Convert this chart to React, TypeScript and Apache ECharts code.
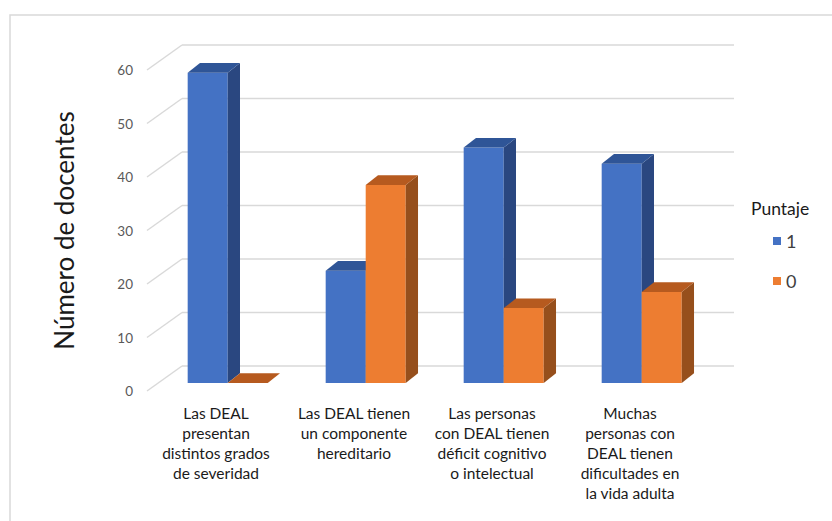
import React, { useEffect, useRef } from "react";
import * as echarts from "echarts";

// Survey statements (category axis)
const categories: string[] = [
  "Las DEAL\npresentan\ndistintos grados\nde severidad",
  "Las DEAL tienen\nun componente\nhereditario",
  "Las personas\ncon DEAL tienen\ndéficit cognitivo\no intelectual",
  "Muchas\npersonas con\nDEAL tienen\ndificultades en\nla vida adulta",
];

// Number of teachers per score
const puntaje1: number[] = [58, 21, 44, 41];
const puntaje0: number[] = [0, 37, 14, 17];

// Value-axis ticks
const yTicks: number[] = [0, 10, 20, 30, 40, 50, 60];

const FONT = "Lato, 'Noto Sans', sans-serif";

// 3D projection offsets (pixels)
const WALL_DX = 35;
const WALL_DY = -25;
const BAR_SHIFT_X = 11.7;
const BAR_SHIFT_Y = -8;
const BAR_DX = 12.3;
const BAR_DY = -9.7;
const BAR_RATIO = 0.29;

const COLORS = {
  blue: { front: "#4472C4", side: "#2A4780", top: "#2F5597" },
  orange: { front: "#ED7D31", side: "#964F1C", top: "#B65A1F" },
};

function barRenderer(slot: number, c: { front: string; side: string; top: string }) {
  return (params: any, api: any) => {
    const i = api.value(0);
    const v = api.value(1);
    const top = api.coord([i, v]);
    const base = api.coord([i, 0]);
    const band = api.size([1, 0])[0];
    const w = band * BAR_RATIO;
    const x0 = top[0] + BAR_SHIFT_X + (slot === 0 ? -w : 0);
    const x1 = x0 + w;
    const yT = top[1] + BAR_SHIFT_Y;
    const yB = base[1] + BAR_SHIFT_Y;
    return {
      type: "group",
      children: [
        {
          type: "polygon",
          shape: { points: [[x0, yT], [x1, yT], [x1, yB], [x0, yB]] },
          style: { fill: c.front },
        },
        {
          type: "polygon",
          shape: {
            points: [
              [x1, yT],
              [x1 + BAR_DX, yT + BAR_DY],
              [x1 + BAR_DX, yB + BAR_DY],
              [x1, yB],
            ],
          },
          style: { fill: c.side },
        },
        {
          type: "polygon",
          shape: {
            points: [
              [x0, yT],
              [x1, yT],
              [x1 + BAR_DX, yT + BAR_DY],
              [x0 + BAR_DX, yT + BAR_DY],
            ],
          },
          style: { fill: c.top },
        },
      ],
    };
  };
}

export default function App() {
  const ref = useRef<HTMLDivElement>(null);

  useEffect(() => {
    if (!ref.current) return;
    const chart = echarts.init(ref.current, undefined, { renderer: "svg" });

    const option: any = {
      animation: false,
      backgroundColor: "#ffffff",
      textStyle: { fontFamily: FONT },
      graphic: [
        {
          type: "rect",
          shape: { x: 10, y: 15, width: 900, height: 600 },
          style: { fill: "none", stroke: "#d9d9d9", lineWidth: 1.5 },
          silent: true,
        },
      ],
      title: {
        text: "Puntaje",
        left: 751,
        top: 199,
        padding: 0,
        textStyle: { fontFamily: FONT, fontSize: 17.5, fontWeight: "normal", color: "#1a1a1a" },
      },
      legend: {
        orient: "vertical",
        left: 773,
        top: 231,
        padding: 0,
        itemWidth: 8,
        itemHeight: 8,
        itemGap: 20,
        icon: "rect",
        data: ["1", "0"],
        textStyle: { fontFamily: FONT, fontSize: 18, color: "#404040", lineHeight: 20 },
      },
      grid: { left: 147, right: 133, top: 70, bottom: 130 },
      xAxis: {
        type: "category",
        data: categories,
        axisLine: { show: false },
        axisTick: { show: false },
        axisLabel: {
          interval: 0,
          margin: 12,
          fontFamily: FONT,
          fontSize: 15.5,
          lineHeight: 20,
          color: "#1a1a1a",
        },
      },
      yAxis: {
        type: "value",
        min: 0,
        max: 60,
        interval: 10,
        name: "Número de docentes",
        nameLocation: "middle",
        nameGap: 70,
        nameTextStyle: { fontFamily: FONT, fontSize: 26, color: "#1a1a1a" },
        axisLine: { show: false },
        axisTick: { show: false },
        splitLine: { show: false },
        axisLabel: { margin: 14, fontFamily: FONT, fontSize: 13.5, color: "#595959" },
      },
      series: [
        {
          type: "custom",
          name: "walls",
          silent: true,
          z: 1,
          data: yTicks.map((t) => [0, t]),
          encode: { x: 0, y: 1 },
          renderItem: (params: any, api: any) => {
            const cs = params.coordSys;
            const y = api.coord([0, api.value(1)])[1];
            const style = { stroke: "#d9d9d9", lineWidth: 1.5 };
            return {
              type: "group",
              children: [
                {
                  type: "line",
                  shape: { x1: cs.x, y1: y, x2: cs.x + WALL_DX, y2: y + WALL_DY },
                  style,
                },
                {
                  type: "line",
                  shape: {
                    x1: cs.x + WALL_DX,
                    y1: y + WALL_DY,
                    x2: cs.x + cs.width + WALL_DX,
                    y2: y + WALL_DY,
                  },
                  style,
                },
              ],
            };
          },
        },
        {
          type: "custom",
          name: "1",
          z: 2,
          itemStyle: { color: COLORS.blue.front },
          data: puntaje1.map((v, i) => [i, v]),
          encode: { x: 0, y: 1 },
          renderItem: barRenderer(0, COLORS.blue),
        },
        {
          type: "custom",
          name: "0",
          z: 3,
          itemStyle: { color: COLORS.orange.front },
          data: puntaje0.map((v, i) => [i, v]),
          encode: { x: 0, y: 1 },
          renderItem: barRenderer(1, COLORS.orange),
        },
      ],
    };

    chart.setOption(option);
    return () => chart.dispose();
  }, []);

  return (
    <div
      ref={ref}
      style={{ position: "fixed", left: 0, top: 0, width: 832, height: 521 }}
    />
  );
}
